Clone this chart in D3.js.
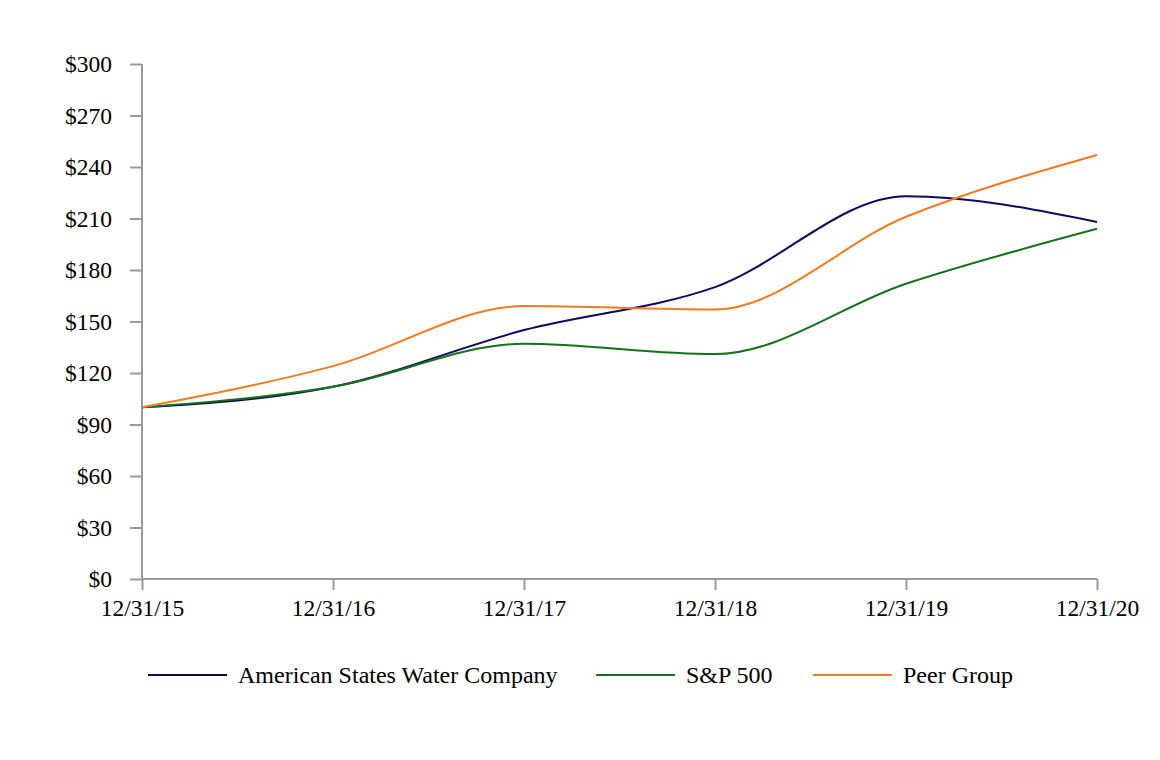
<!DOCTYPE html>
<html>
<head>
<meta charset="utf-8">
<script src="https://cdn.jsdelivr.net/npm/d3@7"></script>
<style>
  body { margin: 0; background: #fff; }
  text { font-family: "Liberation Serif", "Times New Roman", serif; fill: #000; }
  .axis path, .axis line { stroke: #999; stroke-width: 2; }
</style>
</head>
<body>
<svg id="chart"></svg>
<script>
// Data
const years = ["12/31/15", "12/31/16", "12/31/17", "12/31/18", "12/31/19", "12/31/20"];
const awrValues = [100, 112, 145, 170, 223, 208];
const spValues = [100, 112, 137, 131, 172, 204];
const peerValues = [100, 124, 159, 157, 211, 247];
const yTicks = [0, 30, 60, 90, 120, 150, 180, 210, 240, 270, 300];

const series = [
  { name: "American States Water Company", values: awrValues, color: "#0b0b5c" },
  { name: "S&P 500", values: spValues, color: "#16701c" },
  { name: "Peer Group", values: peerValues, color: "#f47a22" },
];

const width = 1160, height = 760;
const margin = { top: 64, right: 63, bottom: 181, left: 142 };
const innerW = width - margin.left - margin.right;
const innerH = height - margin.top - margin.bottom;

const svg = d3.select("#chart").attr("width", width).attr("height", height);
const chart = svg.append("g").attr("transform", `translate(${margin.left},${margin.top})`);

const x = d3.scalePoint().domain(years).range([0, innerW]);
const y = d3.scaleLinear().domain([0, 300]).range([innerH, 0]);

// Axes
const yAxis = d3.axisLeft(y).tickValues(yTicks).tickSize(12).tickSizeOuter(0)
  .tickPadding(18).tickFormat(d => "$" + d);
const xAxis = d3.axisBottom(x).tickSize(11).tickSizeOuter(0).tickPadding(9);

const yAxisG = chart.append("g").attr("class", "axis").call(yAxis);
yAxisG.select(".domain").attr("d", `M0,${innerH}V0`);
yAxisG.selectAll("text").style("font-size", "23.5px");

const xAxisG = chart.append("g").attr("class", "axis")
  .attr("transform", `translate(0,${innerH})`).call(xAxis);
xAxisG.select(".domain").attr("d", `M0,0H${innerW}`);
xAxisG.selectAll("text").style("font-size", "23.5px");

// Lines
const line = d3.line()
  .x((d, i) => x(years[i]))
  .y(d => y(d))
  .curve(d3.curveMonotoneX);

chart.selectAll(".series")
  .data(series)
  .enter()
  .append("path")
  .attr("class", "series")
  .attr("fill", "none")
  .attr("stroke", d => d.color)
  .attr("stroke-width", 2)
  .attr("d", d => line(d.values));

// Legend
const legendX = [148, 596, 813];
const legend = svg.append("g").attr("transform", "translate(0,675)");
const items = legend.selectAll(".item")
  .data(series)
  .enter()
  .append("g")
  .attr("class", "item")
  .attr("transform", (d, i) => `translate(${legendX[i]},0)`);
items.append("line")
  .attr("x1", 0).attr("x2", 79)
  .attr("stroke", d => d.color)
  .attr("stroke-width", 2);
items.append("text")
  .attr("x", 90)
  .attr("dy", "0.35em")
  .style("font-size", "24px")
  .text(d => d.name);
</script>
</body>
</html>
